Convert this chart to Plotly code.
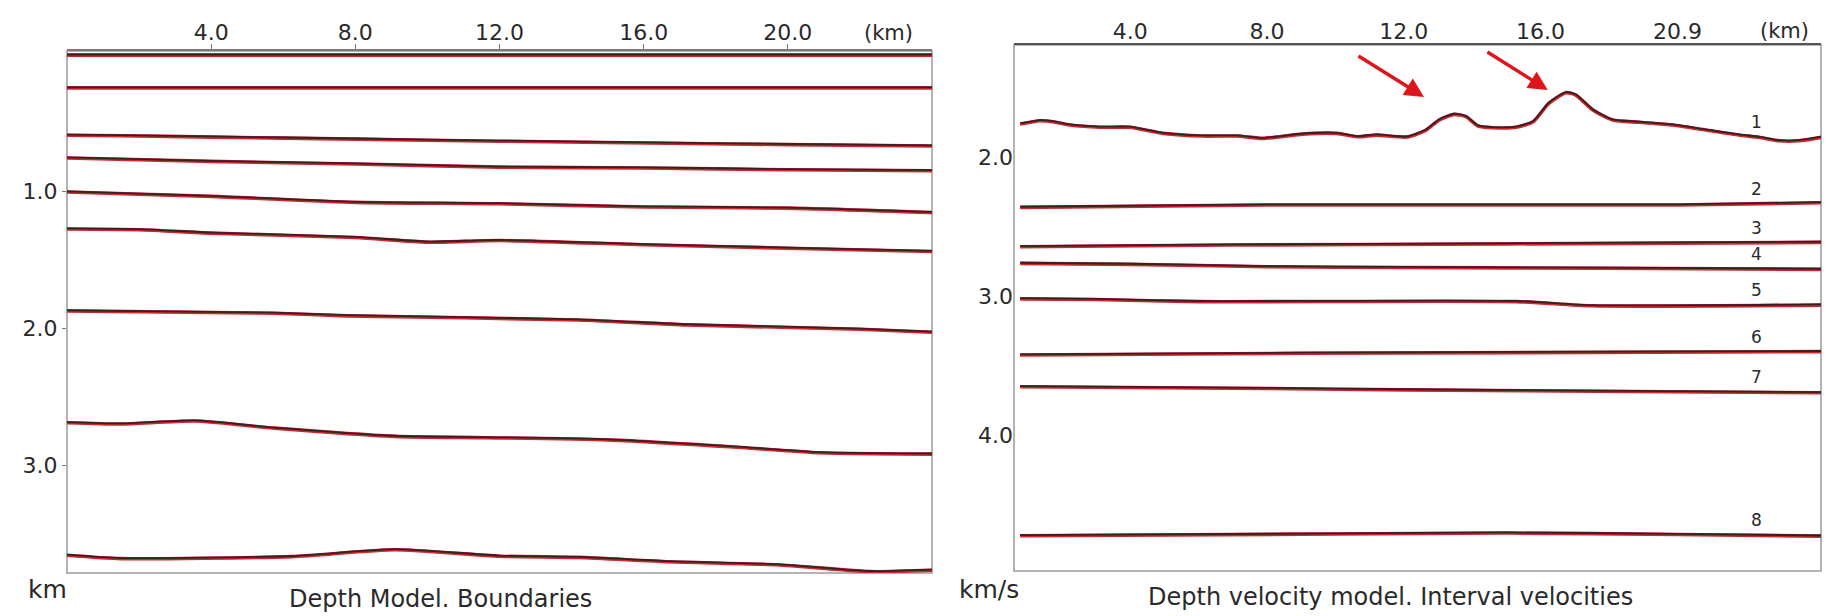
import plotly.graph_objects as go
import numpy as np

# ---------------- data ----------------
# Left panel: depth model boundaries (x in km, depth in km)
b1_x = [0, 24];  b1_z = [0.0, 0.0]
b2_x = [0, 24];  b2_z = [0.24, 0.24]
b3_x = [0, 1.5, 4, 8, 12, 16.7, 20, 24]
b3_z = [0.587, 0.59, 0.60, 0.615, 0.63, 0.645, 0.655, 0.665]
b4_x = [0, 4, 8, 12, 16, 20, 24]
b4_z = [0.753, 0.778, 0.797, 0.82, 0.826, 0.839, 0.846]
b5_x = [0, 4, 8, 12, 16, 20, 24]
b5_z = [1.002, 1.034, 1.078, 1.088, 1.112, 1.12, 1.152]
b6_x = [0, 2, 4, 8, 10, 12, 16, 20, 24]
b6_z = [1.273, 1.278, 1.303, 1.335, 1.369, 1.357, 1.388, 1.413, 1.437]
b7_x = [0, 5.75, 7.75, 14.2, 17.2, 22, 24]
b7_z = [1.872, 1.889, 1.908, 1.938, 1.974, 2.006, 2.028]
b8_x = [0, 1.5, 3.55, 5.75, 9.1, 11.6, 15, 18.4, 20.9, 24]
b8_z = [2.69, 2.70, 2.678, 2.73, 2.79, 2.80, 2.816, 2.866, 2.91, 2.92]
b9_x = [0, 1.5, 6.25, 9.1, 12, 14.2, 16.7, 19.7, 22.3, 24]
b9_z = [3.66, 3.685, 3.67, 3.62, 3.667, 3.676, 3.708, 3.73, 3.78, 3.77]

left_x_ticks = [4, 8, 12, 16, 20]
left_x_labels = ["4.0", "8.0", "12.0", "16.0", "20.0"]
left_y_ticks = [1, 2, 3]
left_y_labels = ["1.0", "2.0", "3.0"]

# Right panel: interval velocity model (x in km, value in km/s)
v1_x = [0.78, 1.36, 1.74, 2.24, 3.11, 3.99, 4.96, 6.13, 7.12, 7.88, 8.38, 9.05,
        10.04, 10.63, 11.21, 12.1, 12.65, 13.03, 13.47, 13.82, 14.17, 14.61, 15.28,
        15.78, 16.24, 16.74, 17.03, 17.53, 18.11, 18.88, 19.87, 20.83, 21.8, 22.38,
        22.97, 23.55, 24.2]
v1_v = [1.763, 1.739, 1.746, 1.770, 1.786, 1.786, 1.83, 1.849, 1.849, 1.866, 1.854, 1.835,
        1.83, 1.854, 1.842, 1.856, 1.806, 1.734, 1.693, 1.71, 1.777, 1.789, 1.786,
        1.746, 1.614, 1.537, 1.554, 1.662, 1.734, 1.75, 1.77, 1.806, 1.842, 1.858,
        1.883, 1.883, 1.858]
v2_x = [0.78, 8, 20, 24.2];            v2_v = [2.362, 2.345, 2.345, 2.329]
v3_x = [0.78, 7, 15, 24.2];            v3_v = [2.645, 2.633, 2.625, 2.614]
v4_x = [0.78, 4, 8, 12, 18, 24.2];     v4_v = [2.765, 2.772, 2.789, 2.795, 2.80, 2.808]
v5_x = [0.78, 3, 6, 15.3, 17.5, 24.2]; v5_v = [3.02, 3.025, 3.04, 3.04, 3.07, 3.065]
v6_x = [0.78, 9, 24.2];                v6_v = [3.424, 3.412, 3.40]
v7_x = [0.78, 8, 12, 24.2];            v7_v = [3.652, 3.665, 3.675, 3.696]
v8_x = [0.78, 10, 15, 20, 24.2];       v8_v = [4.724, 4.712, 4.705, 4.715, 4.727]
layer_labels = ["1", "2", "3", "4", "5", "6", "7", "8"]

right_x_ticks = [4, 8, 12, 16, 20]
right_x_labels = ["4.0", "8.0", "12.0", "16.0", "20.9"]
right_y_ticks = [2, 3, 4]
right_y_labels = ["2.0", "3.0", "4.0"]

# red arrows pointing at the anomalies (tail -> tip)
arrow_tail_x = [10.63, 14.4]
arrow_tail_y = [1.266, 1.237]
arrow_tip_x = [12.59, 16.21]
arrow_tip_y = [1.568, 1.518]

# ---------------- layout geometry ----------------
W, H = 1826, 616
def px(x): return x / W
def py(y): return 1 - y / H

RED = "#d3262c"
DARK = "#352124"
TXT = "#2a2a2a"
FONT = "DejaVu Sans"

fig = go.Figure()

def add_boundary(x, z, xa, ya, shift):
    fig.add_trace(go.Scatter(x=x, y=z, mode="lines", xaxis=xa, yaxis=ya,
                             line=dict(color=RED, width=3.6, shape="spline", smoothing=0.6),
                             hoverinfo="skip", showlegend=False))
    fig.add_trace(go.Scatter(x=x, y=[v - shift for v in z], mode="lines", xaxis=xa, yaxis=ya,
                             line=dict(color=DARK, width=1.8, shape="spline", smoothing=0.6),
                             hoverinfo="skip", showlegend=False))

left_lines = [(b1_x, b1_z), (b2_x, b2_z), (b3_x, b3_z), (b4_x, b4_z), (b5_x, b5_z),
              (b6_x, b6_z), (b7_x, b7_z), (b8_x, b8_z), (b9_x, b9_z)]
for x, z in left_lines:
    add_boundary(x, z, "x", "y", 0.0045)

right_lines = [(v1_x, v1_v), (v2_x, v2_v), (v3_x, v3_v), (v4_x, v4_v),
               (v5_x, v5_v), (v6_x, v6_v), (v7_x, v7_v), (v8_x, v8_v)]
for x, v in right_lines:
    add_boundary(x, v, "x2", "y2", 0.0045)

tickfont = dict(family=FONT, size=22, color=TXT)

fig.update_layout(
    width=W, height=H, margin=dict(l=0, r=0, t=0, b=0),
    paper_bgcolor="white", plot_bgcolor="white", showlegend=False,
    xaxis=dict(domain=[px(67), px(932)], range=[0, 24], side="top", anchor="y",
               showline=True, linecolor="#7a7a7a", linewidth=2,
               ticks="outside", ticklen=5, tickcolor="#7a7a7a", tickwidth=1,
               tickvals=left_x_ticks, ticktext=left_x_labels, tickfont=tickfont,
               showgrid=False, zeroline=False, fixedrange=True),
    yaxis=dict(domain=[py(573), py(51)], range=[3.79, -0.03], anchor="x",
               showline=False, ticks="outside", ticklen=4, tickcolor="#7a7a7a",
               tickvals=left_y_ticks, ticktext=left_y_labels, tickfont=tickfont,
               showgrid=False, zeroline=False, fixedrange=True),
    xaxis2=dict(domain=[px(1014), px(1821)], range=[0.6, 24.2], side="top", anchor="y2",
                showline=True, linecolor="#555555", linewidth=2, ticks="",
                tickvals=right_x_ticks, ticktext=right_x_labels, tickfont=tickfont,
                showgrid=False, zeroline=False, fixedrange=True),
    yaxis2=dict(domain=[py(571), py(45)], range=[4.978, 1.194], anchor="x2",
                showline=False, ticks="",
                tickvals=right_y_ticks, ticktext=right_y_labels, tickfont=tickfont,
                showgrid=False, zeroline=False, fixedrange=True),
)
try:
    fig.update_xaxes(ticklabelstandoff=-5)
except Exception:
    pass

# frames
for xr, yr in (("x domain", "y domain"), ("x2 domain", "y2 domain")):
    fig.add_shape(type="rect", xref=xr, yref=yr, x0=0, x1=1, y0=0, y1=1,
                  line=dict(color="#9a9a9a", width=1.5), layer="below")

def text(xp, yp, s, size):
    fig.add_annotation(xref="paper", yref="paper", x=px(xp), y=py(yp), text=s,
                       xanchor="center", yanchor="middle", showarrow=False,
                       font=dict(family=FONT, size=size, color=TXT))

# "(km)" unit labels at the top axes
text(888, 33, "(km)", 21)
text(1784, 31, "(km)", 21)

# bottom texts
text(47, 589, "km", 25)
text(440, 599, "Depth Model. Boundaries", 24)
text(989, 589, "km/s", 25)
text(1390, 597, "Depth velocity model. Interval velocities", 24)

# layer numbers above the velocity boundaries
label_x = 22.3
for lab, (x, v) in zip(layer_labels, right_lines):
    yv = float(np.interp(label_x, x, v))
    fig.add_annotation(x=label_x, y=yv, xref="x2", yref="y2", text=lab,
                       showarrow=False, yanchor="bottom", yshift=3,
                       font=dict(family=FONT, size=17, color=TXT))

# red arrows
for tx, ty, hx, hy in zip(arrow_tail_x, arrow_tail_y, arrow_tip_x, arrow_tip_y):
    fig.add_annotation(x=hx, y=hy, ax=tx, ay=ty, xref="x2", yref="y2",
                       axref="x2", ayref="y2", text="", showarrow=True,
                       arrowhead=2, arrowsize=1.1, arrowwidth=3.5,
                       arrowcolor="#e0151c")

fig.write_html("out.html", config={"displayModeBar": False},
               post_script="document.body.style.margin='0';document.body.style.overflow='hidden';")
